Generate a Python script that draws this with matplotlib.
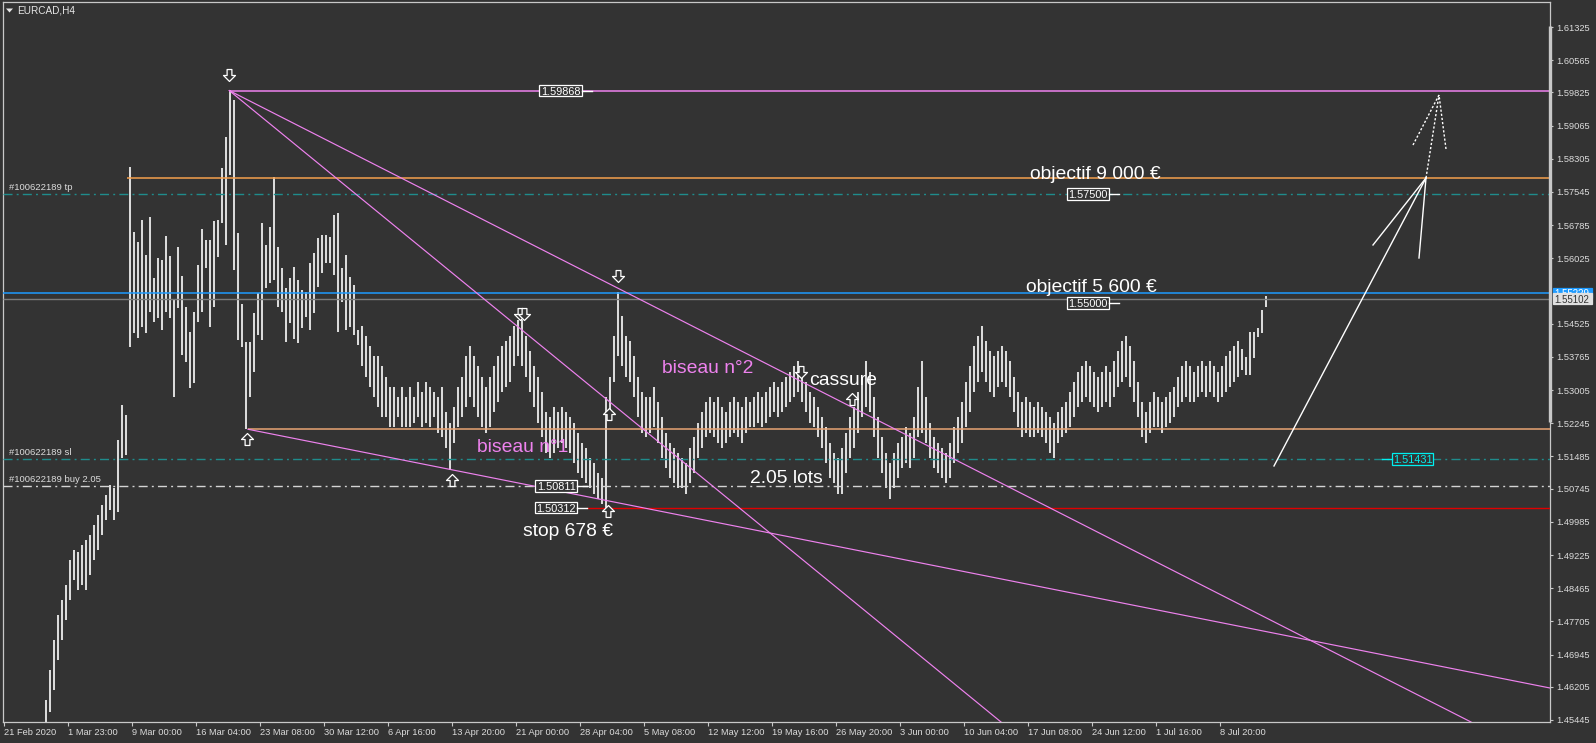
import matplotlib
matplotlib.use("Agg")
import matplotlib.pyplot as plt
import matplotlib.transforms as mtransforms
from matplotlib.patches import Rectangle, Polygon
from matplotlib.path import Path
import numpy as np

plt.rcParams["font.family"] = ["Liberation Sans", "DejaVu Sans"]

W, H = 1596, 743
BG = "#333333"
FG = "#dcdcdc"
VIOLET = "#ee82ee"
TEAL = "#1f8c8c"

# ---------------------------------------------------------------- data
# EURCAD H4, drawn two H4 bars per stroke (high / low)
first_bar = 11
highs = [
    1.4590, 1.4659, 1.4728, 1.4785, 1.4820, 1.4854, 1.4911, 1.4934, 1.4930, 1.4946,
    1.4957, 1.4969, 1.4991, 1.5014, 1.5037, 1.5060, 1.5083, 1.5076, 1.5186, 1.5266,
    1.5243,
    1.5812, 1.5662, 1.5640, 1.5690, 1.5610, 1.5697, 1.5557, 1.5603, 1.5599, 1.5654,
    1.5608, 1.5507, 1.5628, 1.5562, 1.5491, 1.5433, 1.5479, 1.5587, 1.5670, 1.5645,
    1.5645, 1.5688, 1.5690, 1.5809, 1.5880, 1.5988, 1.5965, 1.5660, 1.5498, 1.5411,
    1.5411, 1.5477, 1.5523, 1.5683, 1.5633, 1.5674, 1.5789, 1.5628, 1.5580, 1.5534,
    1.5557, 1.5582, 1.5553, 1.5530, 1.5525, 1.5592, 1.5615, 1.5649, 1.5656, 1.5656,
    1.5651, 1.5702, 1.5706, 1.5580, 1.5610, 1.5560, 1.5541, 1.5438,
    1.5448, 1.5425, 1.5401, 1.5378, 1.5378, 1.5355, 1.5331, 1.5308,
    1.5308, 1.5285, 1.5308, 1.5285, 1.5308, 1.5285, 1.5320, 1.5297,
    1.5320, 1.5308, 1.5297, 1.5285, 1.5308, 1.5250, 1.5226, 1.5261,
    1.5308, 1.5331, 1.5378, 1.5401, 1.5378, 1.5355, 1.5331, 1.5308,
    1.5331, 1.5355, 1.5378, 1.5401, 1.5413, 1.5425, 1.5448, 1.5460,
    1.5460, 1.5425, 1.5390, 1.5355, 1.5331, 1.5297, 1.5250, 1.5238,
    1.5261, 1.5250, 1.5261, 1.5250, 1.5238, 1.5226, 1.5203, 1.5180,
    1.5168, 1.5145, 1.5133, 1.5110, 1.5098, 1.5285, 1.5331, 1.5425,
    1.5525, 1.5470, 1.5425, 1.5413, 1.5378, 1.5331, 1.5297, 1.5285,
    1.5285, 1.5308, 1.5273, 1.5238, 1.5203, 1.5180, 1.5168, 1.5157,
    1.5145, 1.5133, 1.5168, 1.5192, 1.5226, 1.5250, 1.5273, 1.5285,
    1.5273, 1.5285, 1.5261, 1.5250, 1.5273, 1.5285, 1.5273, 1.5261,
    1.5285, 1.5273, 1.5285, 1.5297, 1.5285, 1.5297, 1.5308, 1.5320,
    1.5308, 1.5320, 1.5331, 1.5343, 1.5355, 1.5366, 1.5343, 1.5320,
    1.5297, 1.5285, 1.5261, 1.5238, 1.5215, 1.5180, 1.5157, 1.5145,
    1.5168, 1.5203, 1.5238, 1.5261, 1.5297, 1.5331, 1.5366, 1.5343,
    1.5285, 1.5238, 1.5192, 1.5157, 1.5133, 1.5157, 1.5180, 1.5192,
    1.5215, 1.5203, 1.5238, 1.5308, 1.5366, 1.5285, 1.5226, 1.5192,
    1.5180, 1.5168, 1.5157, 1.5180, 1.5215, 1.5238, 1.5273, 1.5320,
    1.5355, 1.5401, 1.5425, 1.5448, 1.5413, 1.5390, 1.5378, 1.5390,
    1.5401, 1.5390, 1.5366, 1.5331, 1.5297, 1.5273, 1.5285, 1.5273,
    1.5261, 1.5273, 1.5261, 1.5250, 1.5238, 1.5226, 1.5250, 1.5261,
    1.5273, 1.5297, 1.5320, 1.5343, 1.5355, 1.5366, 1.5355, 1.5343,
    1.5331, 1.5343, 1.5355, 1.5343, 1.5366, 1.5390, 1.5413, 1.5425,
    1.5401, 1.5366, 1.5320, 1.5273, 1.5250, 1.5273, 1.5297, 1.5285,
    1.5273, 1.5285, 1.5297, 1.5308, 1.5331, 1.5355, 1.5366, 1.5355,
    1.5343, 1.5355, 1.5366, 1.5355, 1.5366, 1.5355, 1.5343, 1.5355,
    1.5378, 1.5390, 1.5401, 1.5413,
    1.5395, 1.5377, 1.5434, 1.5434, 1.5443, 1.5484, 1.5516,
]
lows = [
    1.4500, 1.4563, 1.4613, 1.4682, 1.4728, 1.4774, 1.4820, 1.4865, 1.4843, 1.4854,
    1.4843, 1.4877, 1.4911, 1.4934, 1.4969, 1.5003, 1.5026, 1.5003, 1.5021, 1.5145,
    1.5152,
    1.5399, 1.5431, 1.5420, 1.5445, 1.5431, 1.5479, 1.5456, 1.5466, 1.5438, 1.5479,
    1.5466, 1.5285, 1.5489, 1.5381, 1.5365, 1.5305, 1.5317, 1.5456, 1.5479, 1.5580,
    1.5445, 1.5491, 1.5605, 1.5683, 1.5633, 1.5793, 1.5576, 1.5415, 1.5399, 1.5211,
    1.5285, 1.5342, 1.5427, 1.5415, 1.5534, 1.5546, 1.5553, 1.5491, 1.5479, 1.5411,
    1.5454, 1.5417, 1.5408, 1.5443, 1.5468, 1.5438, 1.5477, 1.5537, 1.5569, 1.5592,
    1.5592, 1.5564, 1.5433, 1.5502, 1.5438, 1.5445, 1.5427, 1.5404,
    1.5355, 1.5331, 1.5308, 1.5285, 1.5261, 1.5238, 1.5238, 1.5215,
    1.5215, 1.5238, 1.5215, 1.5215, 1.5215, 1.5226, 1.5238, 1.5215,
    1.5226, 1.5215, 1.5238, 1.5203, 1.5192, 1.5168, 1.5117, 1.5180,
    1.5215, 1.5238, 1.5261, 1.5285, 1.5261, 1.5238, 1.5215, 1.5203,
    1.5215, 1.5250, 1.5273, 1.5297, 1.5308, 1.5320, 1.5355, 1.5378,
    1.5355, 1.5331, 1.5297, 1.5261, 1.5226, 1.5192, 1.5157, 1.5145,
    1.5157, 1.5168, 1.5180, 1.5168, 1.5157, 1.5133, 1.5110, 1.5098,
    1.5087, 1.5075, 1.5063, 1.5052, 1.5040, 1.5031, 1.5250, 1.5320,
    1.5378, 1.5355, 1.5331, 1.5320, 1.5285, 1.5238, 1.5203, 1.5192,
    1.5203, 1.5215, 1.5180, 1.5145, 1.5121, 1.5098, 1.5087, 1.5075,
    1.5075, 1.5063, 1.5087, 1.5110, 1.5145, 1.5168, 1.5192, 1.5203,
    1.5192, 1.5180, 1.5168, 1.5180, 1.5192, 1.5203, 1.5192, 1.5180,
    1.5203, 1.5215, 1.5215, 1.5226, 1.5215, 1.5226, 1.5238, 1.5250,
    1.5238, 1.5250, 1.5261, 1.5273, 1.5285, 1.5297, 1.5273, 1.5250,
    1.5226, 1.5215, 1.5192, 1.5168, 1.5133, 1.5098, 1.5087, 1.5063,
    1.5063, 1.5110, 1.5145, 1.5168, 1.5203, 1.5238, 1.5261, 1.5250,
    1.5192, 1.5145, 1.5110, 1.5075, 1.5052, 1.5075, 1.5098, 1.5121,
    1.5133, 1.5121, 1.5145, 1.5192, 1.5203, 1.5180, 1.5145, 1.5121,
    1.5110, 1.5098, 1.5087, 1.5098, 1.5133, 1.5157, 1.5180, 1.5215,
    1.5250, 1.5297, 1.5320, 1.5343, 1.5320, 1.5297, 1.5285, 1.5308,
    1.5320, 1.5308, 1.5285, 1.5250, 1.5215, 1.5192, 1.5203, 1.5192,
    1.5192, 1.5203, 1.5192, 1.5180, 1.5157, 1.5145, 1.5180, 1.5192,
    1.5203, 1.5215, 1.5238, 1.5261, 1.5273, 1.5285, 1.5273, 1.5261,
    1.5250, 1.5261, 1.5273, 1.5261, 1.5285, 1.5308, 1.5320, 1.5331,
    1.5308, 1.5273, 1.5238, 1.5192, 1.5180, 1.5203, 1.5215, 1.5215,
    1.5203, 1.5215, 1.5226, 1.5238, 1.5261, 1.5273, 1.5285, 1.5273,
    1.5273, 1.5285, 1.5297, 1.5285, 1.5297, 1.5285, 1.5273, 1.5285,
    1.5297, 1.5308, 1.5320, 1.5331,
    1.5347, 1.5336, 1.5336, 1.5374, 1.5422, 1.5431, 1.5491,
]

date_labels = ["21 Feb 2020", "1 Mar 23:00", "9 Mar 00:00", "16 Mar 04:00",
               "23 Mar 08:00", "30 Mar 12:00", "6 Apr 16:00", "13 Apr 20:00",
               "21 Apr 00:00", "28 Apr 04:00", "5 May 08:00", "12 May 12:00",
               "19 May 16:00", "26 May 20:00", "3 Jun 00:00", "10 Jun 04:00",
               "17 Jun 08:00", "24 Jun 12:00", "1 Jul 16:00", "8 Jul 20:00"]
bars_per_label = 32

price_ticks = [1.61325, 1.60565, 1.59825, 1.59065, 1.58305, 1.57545, 1.56785,
               1.56025, 1.54525, 1.53765, 1.53005, 1.52245, 1.51485, 1.50745,
               1.49985, 1.49225, 1.48465, 1.47705, 1.46945, 1.46205, 1.45445]

top_level = 1.59868
target_level = 1.57858
tp_level = 1.57500
ask_level = 1.55229
bid_level = 1.55102
support_level = 1.52107
sl_level = 1.51431
open_level = 1.50811
stop_level = 1.50312

# wedge trend lines (bar position, price)
wedge_lines = [
    ([112.65, 498.5], [1.59868, 1.45399]),
    ([112.65, 733.5], [1.59868, 1.45399]),
    ([122.0, 773.0], [1.52107, 1.46178]),
]

# hand drawn projection arrows (bar position, price)
solid_arrow = [
    ([635.0, 711.0], [1.51266, 1.57865]),
    ([684.5, 711.0], [1.56330, 1.57865]),
    ([707.5, 711.0], [1.56032, 1.57865]),
]
dotted_arrow = [
    ([711.0, 717.5], [1.57865, 1.59767]),
    ([704.5, 717.5], [1.58621, 1.59767]),
    ([721.0, 717.5], [1.58530, 1.59767]),
]

# swing marks: bar position, price, direction
mark_pos = [112.65, 121.35, 223.85, 301.85, 307.0, 258.0, 260.0, 302.35, 398.5, 424.0]
mark_price = [1.60225, 1.51884, 1.50945, 1.50234, 1.55619, 1.54749, 1.54749,
              1.52457, 1.53420, 1.52801]
mark_dir = ["down", "up", "up", "up", "down", "down", "down", "up", "down", "up"]

# ---------------------------------------------------------------- figure
fig = plt.figure(figsize=(W / 100, H / 100), dpi=100, facecolor=BG)
ax = fig.add_axes([3 / W, 21 / H, 1547 / W, 720 / H], facecolor=BG)
XMIN, XMAX = -0.5, 773
YMIN, YMAX = 1.45399, 1.61898
ax.set_xlim(XMIN, XMAX)
ax.set_ylim(YMIN, YMAX)
PX = (YMAX - YMIN) / 720.0   # price per pixel

pos = 2 * np.arange(first_bar, first_bar + len(highs)) - 1
ax.vlines(pos, lows, highs, color="#dadada", lw=1.45, zorder=2)

dashdot = (0, (6.5, 3.0, 1.4, 3.0))
ax.hlines(top_level, 112.65, XMAX, color=VIOLET, lw=1.1, zorder=3)
ax.hlines(target_level, 61.5, XMAX, color="#f5a04c", lw=1.1, zorder=3)
ax.hlines(tp_level, XMIN, XMAX, color=TEAL, lw=1.0, ls=dashdot, zorder=3)
ax.hlines(ask_level, XMIN, XMAX, color="#1e9bff", lw=1.1, zorder=3)
ax.hlines(bid_level, XMIN, XMAX, color="#7c7c7c", lw=1.0, zorder=3)
ax.hlines(support_level, 122, XMAX, color="#e8a474", lw=1.1, zorder=3)
ax.hlines(sl_level, XMIN, XMAX, color=TEAL, lw=1.0, ls=dashdot, zorder=3)
ax.hlines(open_level, XMIN, XMAX, color="#d4d4d4", lw=1.0, ls=dashdot, zorder=3)
ax.hlines(stop_level, 291.5, XMAX, color="#e00000", lw=1.0, zorder=3)

for xs, ys in wedge_lines:
    ax.plot(xs, ys, color=VIOLET, lw=0.85, zorder=3)
for xs, ys in solid_arrow:
    ax.plot(xs, ys, color="white", lw=1.0, zorder=4)
for xs, ys in dotted_arrow:
    ax.plot(xs, ys, color="white", lw=1.0, ls=(0, (1.6, 1.4)), zorder=4)

# hollow MT4 style arrows
down_arrow = Path([(-0.2, 0.5), (0.2, 0.5), (0.2, 0.0), (0.5, 0.0), (0.0, -0.5),
                   (-0.5, 0.0), (-0.2, 0.0), (-0.2, 0.5)], closed=True)
up_arrow = Path([(x, -y) for x, y in down_arrow.vertices], closed=True)
for x, p, d in zip(mark_pos, mark_price, mark_dir):
    ax.plot([x], [p], ls="none", marker=down_arrow if d == "down" else up_arrow,
            ms=8.6, mfc=BG, mec="white", mew=0.9, zorder=5)

# ---------------------------------------------------------------- axes look
for s in ax.spines.values():
    s.set_color("#c8c8c8")
    s.set_linewidth(0.9)
ax.plot([XMAX, XMAX], [1.61348, 1.52274], color="#c8c8c8", lw=2.4,
        solid_capstyle="butt", clip_on=False, zorder=6)

ax.yaxis.tick_right()
ax.set_yticks(price_ticks)
ax.set_yticklabels([f"{p:.5f}" for p in price_ticks])
ax.tick_params(axis="y", length=2.2, width=0.8, color="#c8c8c8",
               labelcolor=FG, labelsize=6.7, pad=2.2)
ax.set_xticks(bars_per_label * np.arange(len(date_labels)))
ax.set_xticklabels(date_labels, ha="left")
ax.tick_params(axis="x", length=3.0, width=0.8, color="#c8c8c8",
               labelcolor=FG, labelsize=6.7, pad=1.5)

# ---------------------------------------------------------------- texts
def ftext(x, y, s, **kw):
    fig.text(x / W, 1 - y / H, s, **kw)


big = dict(fontsize=13.9, color="white", va="baseline", ha="left")
ftext(1030, 179, "objectif 9 000 \u20ac", **big)
ftext(1026, 292, "objectif 5 600 \u20ac", **big)
ftext(662, 373, "biseau n\u00b02", **{**big, "color": VIOLET})
ftext(477, 452, "biseau n\u00b01", **{**big, "color": VIOLET})
ftext(809, 385, "cassure", **big)
ftext(750, 483, "2.05 lots", **big)
ftext(523, 536, "stop 678 \u20ac", **big)

small = dict(fontsize=6.8, color=FG, va="center", ha="left")
ftext(9, 187.7, "#100622189 tp", **small)
ftext(9, 452.7, "#100622189 sl", **small)
ftext(9, 480, "#100622189 buy 2.05", **small)
ftext(17, 10.5, "EURCAD,H4", fontsize=7.2, color="#e6e6e6", va="center", ha="left")
fig.patches.append(Polygon([[6 / W, 1 - 8.5 / H], [13 / W, 1 - 8.5 / H],
                            [9.5 / W, 1 - 12.5 / H]], closed=True,
                           transform=fig.transFigure, fc="#e6e6e6", ec="none"))

blend = mtransforms.blended_transform_factory(fig.transFigure, ax.transData)


def price_box(x0, x1, price, text, ec="white", fc=BG, tc="white",
              stub=None, h=11.5, fs=7.8, z=7):
    ax.add_patch(Rectangle((x0 / W, price - h / 2 * PX), (x1 - x0) / W, h * PX,
                           transform=blend, fc=fc, ec=ec, lw=0.9,
                           clip_on=False, zorder=z))
    ax.text((x0 + x1) / 2 / W, price, text, transform=blend, ha="center",
            va="center_baseline", fontsize=fs, color=tc, zorder=z + 0.5,
            clip_on=False)
    if stub is not None:
        ax.plot([stub[0] / W, stub[1] / W], [price, price], transform=blend,
                color=ec, lw=1.0, zorder=z, clip_on=False)


price_box(539.3, 581.7, top_level, "1.59868", stub=(581.7, 591.7))
price_box(1067.3, 1109.3, tp_level, "1.57500", stub=(1109.3, 1119.3))
price_box(1067.3, 1109.3, 1.55000, "1.55000", stub=(1109.3, 1119.3))
price_box(535.0, 577.3, open_level, "1.50811", stub=(577.3, 586.7))
price_box(535.0, 577.3, stop_level, "1.50312", stub=(577.3, 586.7))
price_box(1392.3, 1433.3, sl_level, "1.51431", ec="#00f0f0", tc="#00f0f0",
          stub=(1382.3, 1392.3))
price_box(1552.7, 1591.7, ask_level, "1.55229", ec="#1e9bff", fc="#1e9bff",
          tc="white", h=10.5, fs=7.0, z=7)
price_box(1552.7, 1591.7, bid_level, "1.55102", ec="#e0e0e0", fc="#e0e0e0",
          tc="#333333", h=10.5, fs=7.0, z=9)

fig.savefig("out.png", dpi=100, facecolor=BG)
